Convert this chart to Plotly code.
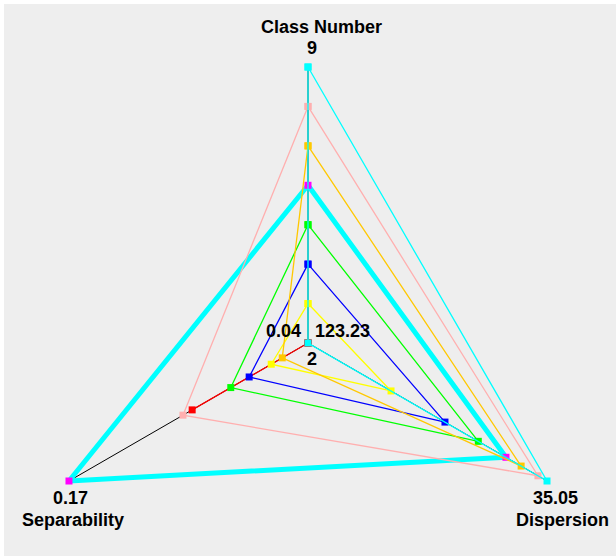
import math
import plotly.graph_objects as go

# Axes of the star plot, listed counter-clockwise from the top
axis_names = ["Class Number", "Separability", "Dispersion"]
axis_angles = [90, 210, 330]  # direction of each spoke, degrees
# Value shown at the centre and at the outer tip of each axis
axis_inner = [2, 0.04, 123.23]
axis_outer = [9, 0.17, 35.05]
axis_inner_text = ["2", "0.04", "123.23"]
axis_outer_text = ["9", "0.17", "35.05"]

# One polygon per clustering result
class_number = [2, 3, 4, 5, 6, 7, 8, 9]
separability = [0.103, 0.060, 0.072, 0.082, 0.17, 0.054, 0.108, 0.04]
dispersion = [123.23, 92.6, 72.7, 60.4, 50.2, 44.6, 38.4, 35.05]
series_colors = ["#FF0000", "#FFFF00", "#0000FF", "#00FF00",
                 "#FF00FF", "#FFC800", "#FFAFAF", "#00FFFF"]
highlighted_index = 4
highlight_color = "#00FFFF"

W, H = 616, 556
CX, CY, R = 308, 343, 276  # centre and spoke length in pixels


def norm(value, i):
    return (value - axis_inner[i]) / (axis_outer[i] - axis_inner[i])


def to_xy(fracs):
    xs, ys = [], []
    for i, f in enumerate(fracs):
        a = math.radians(axis_angles[i])
        xs.append(f * math.cos(a))
        ys.append(f * math.sin(a))
    return xs, ys


fig = go.Figure()

# Black spokes from the centre to each axis tip
for i in range(len(axis_names)):
    a = math.radians(axis_angles[i])
    fig.add_trace(go.Scatter(
        x=[0, math.cos(a)], y=[0, math.sin(a)], mode="lines",
        line=dict(color="black", width=1), hoverinfo="skip",
        showlegend=False, cliponaxis=False))

for k in range(len(class_number)):
    vals = [class_number[k], separability[k], dispersion[k]]
    xs, ys = to_xy([norm(v, i) for i, v in enumerate(vals)])
    xc, yc = xs + xs[:1], ys + ys[:1]
    color = series_colors[k]
    name = f"{class_number[k]} classes"
    if k == highlighted_index:
        fig.add_trace(go.Scatter(
            x=xc, y=yc, mode="lines",
            line=dict(color=highlight_color, width=5), showlegend=False,
            hoverinfo="skip", cliponaxis=False))
        fig.add_trace(go.Scatter(
            x=xs, y=ys, mode="markers",
            marker=dict(symbol="square", size=7, color=color),
            showlegend=False, cliponaxis=False, name=name))
    else:
        fig.add_trace(go.Scatter(
            x=xc, y=yc, mode="lines+markers",
            line=dict(color=color, width=1.3),
            marker=dict(symbol="square", size=7, color=color),
            showlegend=False, cliponaxis=False, name=name))

bg = "#EEEEEE"
font = dict(family="Liberation Sans, Arial", size=18, color="black", weight="bold")


def px(x, y):
    return x / W, 1 - y / H


labels = [
    ("Class Number", 321, 27),
    (axis_outer_text[0], 312, 48),
    (axis_outer_text[1], 70, 498),
    ("Separability", 73, 520),
    (axis_outer_text[2], 555, 498),
    ("Dispersion", 562, 520),
    (axis_inner_text[1], 283, 331),
    (axis_inner_text[2], 342, 331),
    (axis_inner_text[0], 312, 359),
]
annotations = []
for text, x, y in labels:
    ax, ay = px(x, y)
    annotations.append(dict(text=text, x=ax, y=ay, xref="paper", yref="paper",
                            showarrow=False, xanchor="center", yanchor="middle",
                            font=font))

hidden = dict(visible=False, showgrid=False, zeroline=False, fixedrange=True)
fig.update_layout(
    width=W, height=H,
    margin=dict(l=0, r=0, t=0, b=0, pad=0),
    paper_bgcolor="white",
    plot_bgcolor="rgba(0,0,0,0)",
    xaxis=dict(range=[-CX / R, (W - CX) / R], **hidden),
    yaxis=dict(range=[-(H - CY) / R, CY / R], **hidden),
    shapes=[dict(type="rect", xref="paper", yref="paper", layer="below",
                 x0=4 / W, x1=1, y0=0, y1=1 - 4 / H,
                 fillcolor=bg, line=dict(width=0))],
    annotations=annotations,
)

fig.write_html("out.html")
